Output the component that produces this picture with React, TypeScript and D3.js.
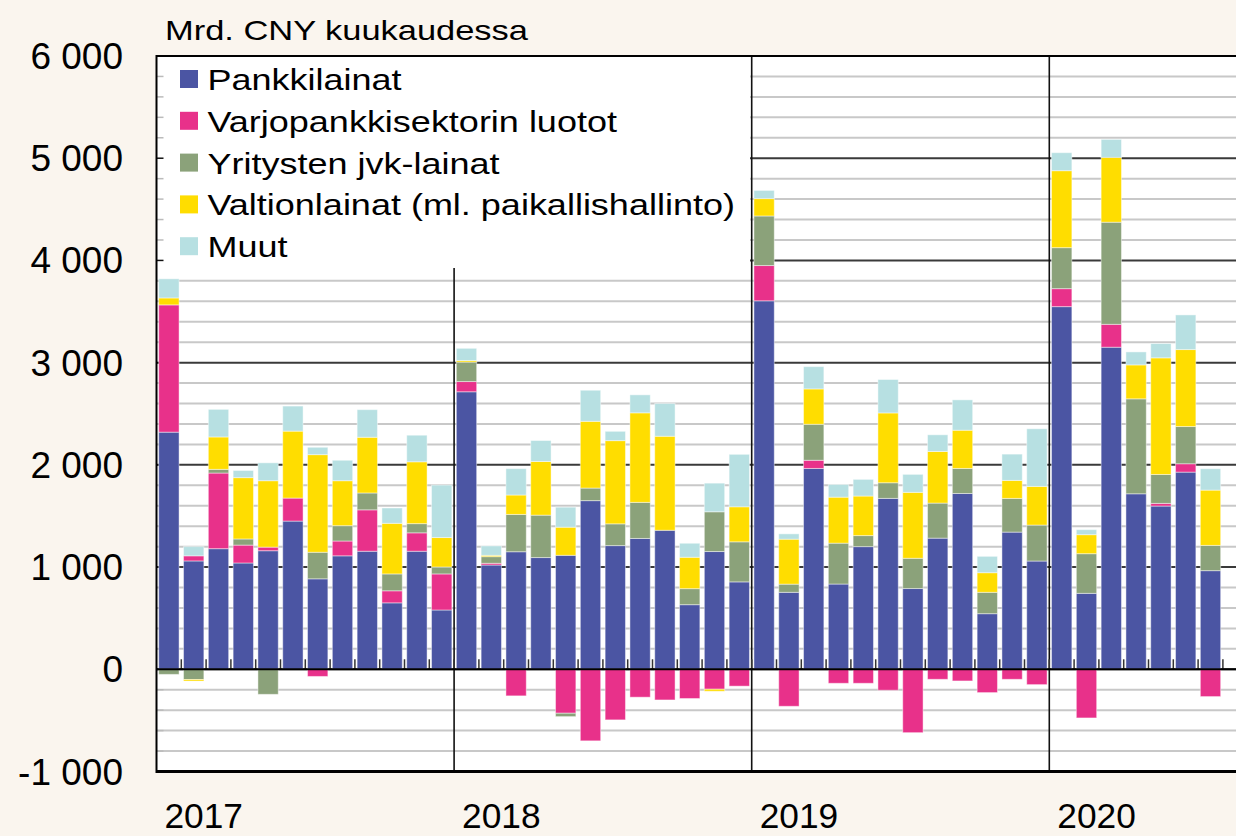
import React from "react";
import * as d3 from "d3";

// ---- data (Mrd. CNY per month, Jan 2017 – Jul 2020) ----
const years = ["2017", "2018", "2019", "2020"];
const monthNumbers = ["01", "02", "03", "04", "05", "06", "07", "08", "09", "10", "11", "12"];
const months = years.flatMap((y) => monthNumbers.map((m) => `${y}-${m}`));

const seriesKeys = ["bank", "shadow", "corp", "gov", "other"];
const seriesNames = [
  "Pankkilainat",
  "Varjopankkisektorin luotot",
  "Yritysten jvk-lainat",
  "Valtionlainat (ml. paikallishallinto)",
  "Muut",
];
const seriesColors = ["#4B55A3", "#E8318A", "#8BA27A", "#FFDD00", "#B7E0E2"];

const bank = [
  2320, 1060, 1180, 1040, 1160, 1450, 885, 1110, 1155, 650, 1155, 580,
  2715, 1020, 1150, 1093, 1115, 1650, 1210, 1280, 1360, 632, 1152, 855,
  3605, 753, 1965, 834, 1200, 1672, 790, 1283, 1720, 544, 1342, 1059,
  3548, 743, 3151, 1717, 1597, 1929, 965,
];
const shadow = [
  1245, 50, 740, 175, 35, 225, -70, 145, 405, 118, 180, 353,
  100, 17, -260, 0, -430, -700, -495, -273, -300, -286, -195, -165,
  345, -362, 80, -137, -137, -205, -620, -98, -114, -228, -98, -150,
  176, -476, 224, 0, 26, 82, -267,
];
const corp = [
  -50, -100, 36, 60, -245, 0, 260, 150, 165, 165, 90, 68,
  190, 65, 365, 415, -33, 123, 213, 353, 0, 157, 389, 392,
  485, 80, 352, 400, 108, 153, 296, 343, 245, 209, 330, 352,
  401, 388, 999, 929, 283, 364, 247,
];
const gov = [
  68, -15, 317, 600, 650, 655, 955, 440, 545, 495, 605, 288,
  15, 13, 190, 525, 275, 653, 814, 876, 920, 307, -20, 343,
  170, 440, 346, 450, 387, 683, 645, 505, 374, 192, 176, 378,
  753, 186, 634, 332, 1141, 753, 541,
];
const other = [
  187, 90, 270, 70, 175, 245, 72, 200, 270, 150, 260, 513,
  120, 92, 258, 205, 196, 304, 91, 176, 320, 137, 280, 513,
  80, 52, 218, 124, 163, 327, 176, 163, 297, 160, 257, 564,
  176, 49, 176, 127, 140, 339, 209,
];
const yTickLabels = [-1000, 0, 1000, 2000, 3000, 4000, 5000, 6000];
const unitTitle = "Mrd. CNY kuukaudessa";

// ---- layout ----
const W = 1236;
const H = 836;
const plotLeft = 156.5;
const plotTop = 56;
const plotBottom = 771.5;
const step = 24.8;
const FONT = "'Liberation Sans', Arial, Helvetica, sans-serif";

export default function App() {
  const rows = bank.map((b, i) => ({
    month: months[i],
    bank: b,
    shadow: shadow[i],
    corp: corp[i],
    gov: gov[i],
    other: other[i],
  }));

  const x = d3
    .scaleBand<string>()
    .domain(months)
    .range([plotLeft, plotLeft + step * months.length])
    .paddingInner(0.18)
    .paddingOuter(0.09);

  const y = d3.scaleLinear().domain([-1000, 6000]).range([plotBottom, plotTop]);

  const stacked = d3
    .stack<any>()
    .keys(seriesKeys)
    .offset(d3.stackOffsetDiverging)(rows);

  const gridValues = d3.range(-1000, 6001, 200);
  const zeroY = y(0);
  const fmt = (v: number) =>
    d3.format(",")(v).replace(/,/g, " ").replace(/\u2212/g, "-");

  const yearStarts = years.map((yr) => x(`${yr}-01`)! - x.step() * x.paddingOuter());
  const legendRight = 750;
  const legendBottom = 268;

  return (
    <svg width={W} height={H} style={{ display: "block", position: "absolute", left: 0, top: 0 }} fontFamily={FONT}>
      <style>{`body{margin:0}`}</style>
      <rect x={0} y={0} width={W} height={H} fill="#FAF5EE" />
      <rect x={plotLeft} y={plotTop} width={W - plotLeft} height={plotBottom - plotTop} fill="#fff" />

      {/* gridlines */}
      {gridValues.map((v) => (
        <line
          key={"g" + v}
          x1={plotLeft}
          x2={W}
          y1={y(v)}
          y2={y(v)}
          stroke={v % 1000 === 0 ? "#3a3a3a" : "#c8c8c8"}
          strokeWidth={2}
        />
      ))}

      {/* year separators */}
      {yearStarts.slice(1).map((xs, i) => (
        <line key={"yr" + i} x1={xs} x2={xs} y1={plotTop} y2={plotBottom} stroke="#111" strokeWidth={1.6} />
      ))}

      {/* legend background */}
      <rect x={plotLeft} y={plotTop} width={legendRight - plotLeft} height={legendBottom - plotTop} fill="#fff" />

      {/* left axis inner ticks */}
      {gridValues.map((v) => (
        <line
          key={"t" + v}
          x1={plotLeft}
          x2={plotLeft + 7}
          y1={y(v)}
          y2={y(v)}
          stroke={v % 1000 === 0 ? "#111" : "#bbb"}
          strokeWidth={1.5}
        />
      ))}

      {/* month ticks on zero line */}
      {months.slice(1).map((m) => {
        const xs = x(m)! - x.step() * x.paddingInner() / 2;
        return <line key={"mt" + m} x1={xs} x2={xs} y1={zeroY - 10} y2={zeroY} stroke="#333" strokeWidth={1.5} />;
      })}

      {/* bars */}
      {stacked.map((s, si) => (
        <g key={s.key} fill={seriesColors[si]}>
          {s.map((d: any, i: number) => {
            const y0 = y(d[0]);
            const y1 = y(d[1]);
            const h = Math.abs(y0 - y1);
            if (h < 0.01) return null;
            return (
              <rect
                key={i}
                x={x(d.data.month)}
                y={Math.min(y0, y1)}
                width={x.bandwidth()}
                height={h}
                stroke="#ffffff"
                strokeOpacity={0.45}
                strokeWidth={1}
              />
            );
          })}
        </g>
      ))}

      {/* zero line */}
      <line x1={plotLeft} x2={W} y1={zeroY} y2={zeroY} stroke="#000" strokeWidth={2} />
      {/* frame */}
      <line x1={plotLeft} x2={W} y1={plotTop} y2={plotTop} stroke="#000" strokeWidth={2} />
      <line x1={plotLeft} x2={W} y1={plotBottom} y2={plotBottom} stroke="#000" strokeWidth={3} />
      <line x1={plotLeft} x2={plotLeft} y1={plotTop - 1} y2={plotBottom + 1.5} stroke="#000" strokeWidth={2} />

      {/* legend */}
      {seriesNames.map((name, i) => {
        const top = 70 + i * 41.8;
        return (
          <g key={name}>
            <rect x={180} y={top} width={18} height={18} fill={seriesColors[i]} />
            <text
              transform={`translate(207.5,${top + 20}) scale(1.2,1)`}
              fontSize={30}
              fill="#000"
            >
              {name}
            </text>
          </g>
        );
      })}

      {/* y tick labels */}
      {yTickLabels.map((v) => (
        <text key={"yl" + v} x={123} y={y(v) + 13} fontSize={37} textAnchor="end" fill="#000">
          {fmt(v)}
        </text>
      ))}

      {/* x labels */}
      {years.map((yr, i) => (
        <text
          key={yr}
          transform={`translate(${yearStarts[i] + 8},828) scale(0.98,1)`}
          fontSize={36}
          fill="#000"
        >
          {yr}
        </text>
      ))}

      {/* unit title */}
      <text transform="translate(165,40) scale(1.23,1)" fontSize={28} fill="#000">
        {unitTitle}
      </text>
    </svg>
  );
}
